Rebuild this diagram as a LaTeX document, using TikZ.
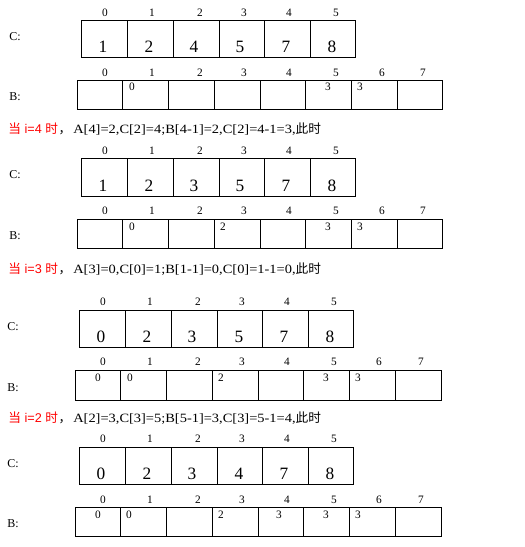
\documentclass[tikz,border=0pt]{standalone}
\usepackage{fontspec}
\setmainfont{Liberation Serif}
\newfontfamily\cjk{Noto Sans CJK SC}
\newfontfamily\arial{Liberation Sans}
\newfontfamily\stagefont{Liberation Serif}[FakeStretch=1.14]
\usetikzlibrary{positioning}
\tikzset{
  idx/.style={inner sep=0pt, font=\fontsize{8.5}{9}\selectfont},
  cval/.style={inner sep=0pt, font=\fontsize{13}{13}\selectfont},
  bval/.style={inner sep=0pt, font=\fontsize{8.5}{9}\selectfont},
  lab/.style={inner sep=0pt, anchor=west, font=\fontsize{9}{9}\selectfont},
  stage/.style={inner sep=0pt, anchor=west, font=\stagefont\fontsize{9.5}{10}\selectfont},
  cell/.style={line width=0.75pt},
}
\begin{document}
\begin{tikzpicture}[x=0.75pt,y=-0.75pt]
\useasboundingbox (0,0) rectangle (525,547);

% Block 1: start
\node[lab] (c1) at (9,37) {C:};
\foreach \x/\i in {105/0,152/1,200/2,244/3,289/4,336/5} \node[idx] (c1i\i) at (\x,13) {\i};
\draw[cell] (81,20) rectangle (355,57);
\foreach \x in {127,173,219,264,310} \draw[cell] (\x,20) -- (\x,57);
\node[cval] (c1v0) at (103,47) {1};
\node[cval] (c1v1) at (149,47) {2};
\node[cval] (c1v2) at (194,47) {4};
\node[cval] (c1v3) at (240,47) {5};
\node[cval] (c1v4) at (286,47) {7};
\node[cval] (c1v5) at (332,47) {8};

\node[lab] (b1) at (9,97) {B:};
\foreach \x/\i in {105/0,152/1,200/2,244/3,289/4,336/5,382/6,423/7} \node[idx] (b1i\i) at (\x,73) {\i};
\draw[cell] (77,80) rectangle (442,109);
\foreach \x in {122,168,214,260,305,351,397} \draw[cell] (\x,80) -- (\x,109);
\node[bval] (b1v1) at (132,87) {0};
\node[bval] (b1v5) at (328,87) {3};
\node[bval] (b1v6) at (360,87) {3};

% Block 2: i=4
\node[stage, text=red] (s2) at (8,129) {{\cjk 当} {\arial i=4} {\cjk 时}};
\node[stage, right=0pt of s2] (t2) {{\cjk ，}\hspace{1.5pt}A[4]=2,C[2]=4;B[4-1]=2,C[2]=4-1=3,{\cjk 此时}};

\node[lab] (c2) at (9,175) {C:};
\foreach \x/\i in {105/0,152/1,200/2,244/3,289/4,336/5} \node[idx] (c2i\i) at (\x,151) {\i};
\draw[cell] (81,158) rectangle (355,196);
\foreach \x in {127,173,219,264,310} \draw[cell] (\x,158) -- (\x,196);
\node[cval] (c2v0) at (103,186) {1};
\node[cval] (c2v1) at (149,186) {2};
\node[cval] (c2v2) at (194,186) {3};
\node[cval] (c2v3) at (240,186) {5};
\node[cval] (c2v4) at (286,186) {7};
\node[cval] (c2v5) at (332,186) {8};

\node[lab] (b2) at (9,236) {B:};
\foreach \x/\i in {105/0,152/1,200/2,244/3,289/4,336/5,382/6,423/7} \node[idx] (b2i\i) at (\x,211) {\i};
\draw[cell] (77,219) rectangle (442,248);
\foreach \x in {122,168,214,260,305,351,397} \draw[cell] (\x,219) -- (\x,248);
\node[bval] (b2v1) at (132,227) {0};
\node[bval] (b2v3) at (223,227) {2};
\node[bval] (b2v5) at (328,227) {3};
\node[bval] (b2v6) at (360,227) {3};

% Block 3: i=3
\node[stage, text=red] (s3) at (8,269) {{\cjk 当} {\arial i=3} {\cjk 时}};
\node[stage, right=0pt of s3] (t3) {{\cjk ，}\hspace{1.5pt}A[3]=0,C[0]=1;B[1-1]=0,C[0]=1-1=0,{\cjk 此时}};

\node[lab] (c3) at (7,327) {C:};
\foreach \x/\i in {103/0,150/1,198/2,242/3,287/4,334/5} \node[idx] (c3i\i) at (\x,302) {\i};
\draw[cell] (79,310) rectangle (353,347);
\foreach \x in {125,171,217,262,308} \draw[cell] (\x,310) -- (\x,347);
\node[cval] (c3v0) at (101,337) {0};
\node[cval] (c3v1) at (147,337) {2};
\node[cval] (c3v2) at (192,337) {3};
\node[cval] (c3v3) at (239,337) {5};
\node[cval] (c3v4) at (284,337) {7};
\node[cval] (c3v5) at (330,337) {8};

\node[lab] (b3) at (7,388) {B:};
\foreach \x/\i in {103/0,150/1,198/2,242/3,287/4,334/5,379/6,421/7} \node[idx] (b3i\i) at (\x,362) {\i};
\draw[cell] (75,370) rectangle (441,400);
\foreach \x in {120,166,212,258,303,349,395} \draw[cell] (\x,370) -- (\x,400);
\node[bval] (b3v0) at (98,378) {0};
\node[bval] (b3v1) at (130,378) {0};
\node[bval] (b3v3) at (221,378) {2};
\node[bval] (b3v5) at (326,378) {3};
\node[bval] (b3v6) at (358,378) {3};

% Block 4: i=2
\node[stage, text=red] (s4) at (8,418) {{\cjk 当} {\arial i=2} {\cjk 时}};
\node[stage, right=0pt of s4] (t4) {{\cjk ，}\hspace{1.5pt}A[2]=3,C[3]=5;B[5-1]=3,C[3]=5-1=4,{\cjk 此时}};

\node[lab] (c4) at (7,464) {C:};
\foreach \x/\i in {103/0,150/1,198/2,242/3,287/4,334/5} \node[idx] (c4i\i) at (\x,439) {\i};
\draw[cell] (79,447) rectangle (353,484);
\foreach \x in {125,171,217,262,308} \draw[cell] (\x,447) -- (\x,484);
\node[cval] (c4v0) at (101,474) {0};
\node[cval] (c4v1) at (147,474) {2};
\node[cval] (c4v2) at (192,474) {3};
\node[cval] (c4v3) at (239,474) {4};
\node[cval] (c4v4) at (284,474) {7};
\node[cval] (c4v5) at (330,474) {8};

\node[lab] (b4) at (7,524) {B:};
\foreach \x/\i in {103/0,150/1,198/2,242/3,287/4,334/5,379/6,421/7} \node[idx] (b4i\i) at (\x,500) {\i};
\draw[cell] (75,507) rectangle (441,536);
\foreach \x in {120,166,212,258,303,349,395} \draw[cell] (\x,507) -- (\x,536);
\node[bval] (b4v0) at (98,515) {0};
\node[bval] (b4v1) at (129,515) {0};
\node[bval] (b4v3) at (221,515) {2};
\node[bval] (b4v4) at (279,515) {3};
\node[bval] (b4v5) at (326,515) {3};
\node[bval] (b4v6) at (358,515) {3};

\end{tikzpicture}
\end{document}
